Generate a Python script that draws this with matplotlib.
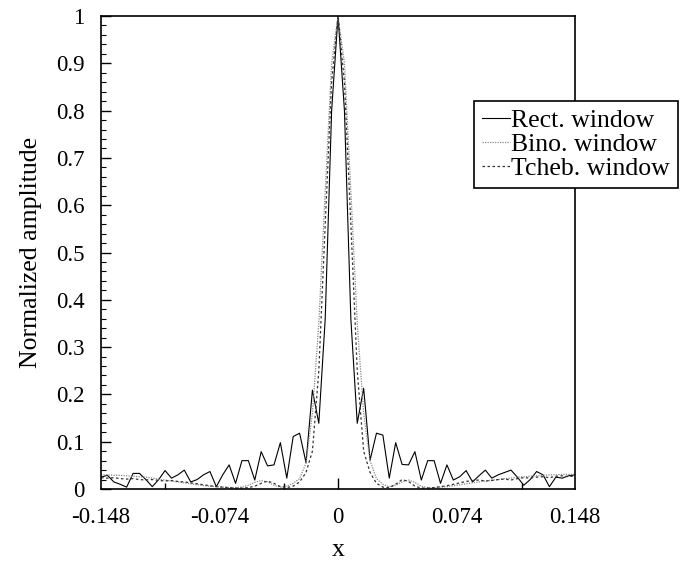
import numpy as np
import matplotlib
matplotlib.use("Agg")
import matplotlib.pyplot as plt

plt.rcParams['font.family'] = ['Liberation Serif', 'DejaVu Serif']
plt.rcParams['axes.unicode_minus'] = False

# sample positions (step 0.004 from -0.148 to 0.148)
x = np.round(np.arange(-37, 38) * 0.004, 3)

rect = [0.025, 0.029, 0.015, 0.010, 0.004, 0.033, 0.033, 0.020, 0.005, 0.020,
        0.039, 0.023, 0.030, 0.040, 0.015, 0.020, 0.030, 0.037, 0.005, 0.030,
        0.051, 0.012, 0.060, 0.060, 0.019, 0.079, 0.049, 0.051, 0.098, 0.023,
        0.111, 0.118, 0.056, 0.209, 0.139, 0.36, 0.80,
        1.0,
        0.80, 0.36, 0.139, 0.213, 0.061, 0.118, 0.114, 0.023, 0.098, 0.052,
        0.051, 0.079, 0.019, 0.060, 0.060, 0.012, 0.051, 0.019, 0.026, 0.039,
        0.015, 0.028, 0.040, 0.023, 0.030, 0.035, 0.040, 0.025, 0.008, 0.020,
        0.037, 0.030, 0.005, 0.025, 0.023, 0.028, 0.030]

bino = [0.030, 0.030, 0.029, 0.029, 0.028, 0.027, 0.026, 0.025, 0.023, 0.021,
        0.019, 0.017, 0.015, 0.013, 0.011, 0.009, 0.007, 0.006, 0.005, 0.004,
        0.003, 0.003, 0.004, 0.008, 0.014, 0.018, 0.015, 0.008, 0.004, 0.006,
        0.012, 0.022, 0.055, 0.16, 0.35, 0.63, 0.90,
        1.0,
        0.90, 0.63, 0.35, 0.16, 0.06, 0.022, 0.010, 0.005, 0.008, 0.015,
        0.019, 0.014, 0.006, 0.003, 0.003, 0.004, 0.005, 0.007, 0.009, 0.011,
        0.013, 0.015, 0.017, 0.019, 0.020, 0.022, 0.023, 0.025, 0.026, 0.027,
        0.028, 0.029, 0.030, 0.030, 0.031, 0.031, 0.031]

tcheb = [0.024, 0.023, 0.024, 0.022, 0.021, 0.022, 0.020, 0.019, 0.020, 0.018,
         0.017, 0.018, 0.016, 0.015, 0.013, 0.011, 0.009, 0.007, 0.005, 0.004,
         0.003, 0.002, 0.002, 0.003, 0.006, 0.012, 0.017, 0.012, 0.005, 0.003,
         0.006, 0.015, 0.035, 0.08, 0.25, 0.56, 0.86,
         1.0,
         0.86, 0.56, 0.25, 0.08, 0.035, 0.012, 0.004, 0.003, 0.010, 0.020,
         0.016, 0.006, 0.002, 0.002, 0.003, 0.005, 0.007, 0.010, 0.013, 0.016,
         0.018, 0.019, 0.017, 0.018, 0.020, 0.021, 0.019, 0.022, 0.024, 0.023,
         0.025, 0.026, 0.024, 0.027, 0.028, 0.026, 0.028]

xticks = [-0.148, -0.074, 0, 0.074, 0.148]
xtick_labels = ['-0.148', '-0.074', '0', '0.074', '0.148']
yticks = [0, 0.1, 0.2, 0.3, 0.4, 0.5, 0.6, 0.7, 0.8, 0.9, 1]
ytick_labels = ['0', '0.1', '0.2', '0.3', '0.4', '0.5', '0.6', '0.7', '0.8', '0.9', '1']
# small tick marks along the bottom edge
xminor = [-0.108, -0.034, 0.074, 0.115]

fig = plt.figure(figsize=(6.84, 5.63), dpi=100)
ax = fig.add_axes([0.1477, 0.1314, 0.693, 0.8402])

ax.plot(x, rect, color='black', lw=0.8, label='Rect. window')
ax.plot(x, bino, color='#888888', lw=0.9, linestyle=(0, (1, 1)), label='Bino. window')
ax.plot(x, tcheb, color='#333333', lw=0.9, linestyle=(0, (2, 2)), label='Tcheb. window')

ax.set_xlim(-0.148, 0.148)
ax.set_ylim(0, 1)

ax.set_xticks(xticks)
ax.set_xticklabels(xtick_labels)
ax.set_xticks(xminor, minor=True)
ax.set_yticks(yticks)
ax.set_yticklabels(ytick_labels)
ax.set_yticks(np.arange(0, 1.001, 0.02), minor=True)

ax.tick_params(axis='x', which='major', direction='in', length=8, width=1, pad=13, labelsize=16.5)
ax.tick_params(axis='x', which='minor', direction='in', length=4, width=1)
ax.tick_params(axis='y', which='major', direction='in', length=7, width=1, pad=12, labelsize=16.5)
ax.tick_params(axis='y', which='minor', direction='in', length=3.5, width=0.8)
for t, loc in zip(ax.xaxis.get_major_ticks(), xticks):
    t.tick1line.set_visible(loc == 0)

for s in ax.spines.values():
    s.set_linewidth(1.2)

ax.set_ylabel('Normalized amplitude', fontsize=18.5)
ax.yaxis.set_label_coords(-0.125, 0.5)
ax.set_xlabel('x', fontsize=18.5)
ax.xaxis.set_label_coords(0.5, -0.105)

leg = fig.legend(loc='upper left', bbox_to_anchor=(474 / 684, 1 - 101 / 563),
                 bbox_transform=fig.transFigure, borderaxespad=0,
                 fontsize=18.5, frameon=True, fancybox=False, framealpha=1,
                 edgecolor='black', handlelength=1.1, handletextpad=0.05,
                 labelspacing=0.05, borderpad=0.3)
leg.get_frame().set_linewidth(1.2)

fig.savefig('out.png', dpi=100)
